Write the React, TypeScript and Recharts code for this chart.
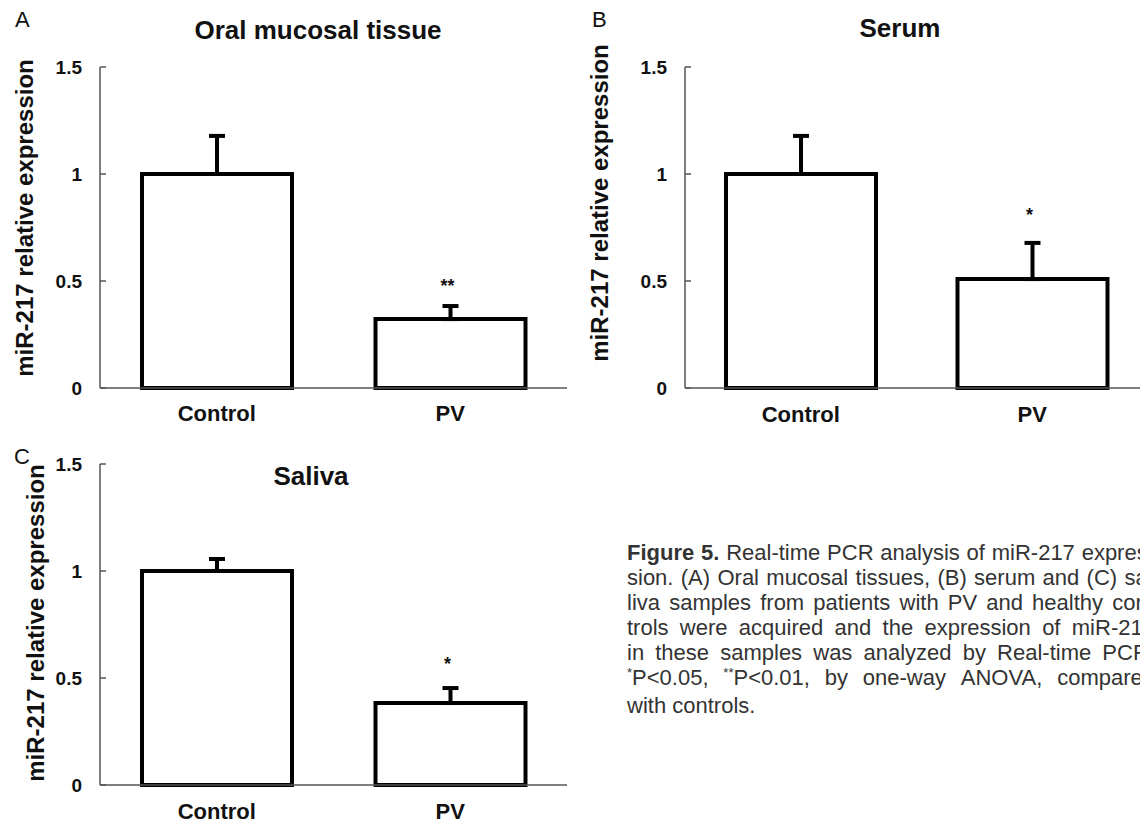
import React from "react";
import { BarChart, Bar, XAxis, YAxis, ErrorBar, LabelList } from "recharts";

const FONT = "'Liberation Sans', Arial, Helvetica, sans-serif";

const groups = ["Control", "PV"];
const yTicks = [0, 0.5, 1, 1.5];

const tissueValues = [1, 0.322];
const tissueErrors = [0.178, 0.061];
const tissueMarks = ["", "**"];

const serumValues = [1, 0.509];
const serumErrors = [0.178, 0.169];
const serumMarks = ["", "*"];

const salivaValues = [1, 0.383];
const salivaErrors = [0.056, 0.07];
const salivaMarks = ["", "*"];

const build = (values: number[], errors: number[], marks: string[]) =>
  groups.map((g, i) => ({ group: g, value: values[i], err: [0, errors[i]], sd: errors[i], mark: marks[i] }));

type PanelProps = {
  values: number[];
  errors: number[];
  marks: string[];
  left: number;
  top: number;
  width: number;
  height: number;
  yWidth: number;
  mTop: number;
  mRight: number;
  mBottom: number;
  xHeight: number;
  labelX: number;
  labelY: number;
  catGap: number;
  starGap: number;
};

const AXIS = "#555";

function Panel(p: PanelProps) {
  const data = build(p.values, p.errors, p.marks);

  const yTick = (props: any) => {
    const { x, y, payload } = props;
    const ax = x + 18;
    return (
      <g>
        <line x1={ax} x2={ax + 6} y1={y} y2={y} stroke={AXIS} strokeWidth={1.5} />
        <text x={x} y={y} dy="0.36em" textAnchor="end" fontFamily={FONT} fontWeight={700} fontSize={19} fill="#111">
          {payload.value}
        </text>
      </g>
    );
  };

  const yLabel = () => (
    <text
      x={p.labelX}
      y={p.labelY}
      transform={`rotate(-90, ${p.labelX}, ${p.labelY})`}
      textAnchor="middle"
      fontFamily={FONT}
      fontWeight={700}
      fontSize={24}
      fill="#111"
    >
      miR-217 relative expression
    </text>
  );

  const star = (props: any) => {
    const vb = props.viewBox ?? props;
    const i = props.index;
    if (!props.value) return null;
    const perUnit = vb.height / p.values[i];
    const errPx = p.errors[i] * perUnit;
    return (
      <text
        x={vb.x + vb.width / 2 - 3}
        y={vb.y - errPx - p.starGap}
        textAnchor="middle"
        fontFamily={FONT}
        fontWeight={700}
        fontSize={18}
        fill="#111"
      >
        {props.value}
      </text>
    );
  };

  return (
    <div style={{ position: "absolute", left: p.left, top: p.top }}>
      <BarChart
        width={p.width}
        height={p.height}
        data={data}
        margin={{ top: p.mTop, right: p.mRight, bottom: p.mBottom, left: 0 }}
        barSize={150}
      >
        <XAxis
          dataKey="group"
          interval={0}
          height={p.xHeight}
          axisLine={{ stroke: AXIS, strokeWidth: 1.5 }}
          tickLine={false}
          tickSize={0}
          tickMargin={p.catGap}
          tick={{ fill: "#111", fontSize: 22, fontWeight: 700, fontFamily: FONT }}
        />
        <YAxis
          domain={[0, 1.5]}
          ticks={yTicks}
          interval={0}
          width={p.yWidth}
          axisLine={{ stroke: AXIS, strokeWidth: 1.5 }}
          tickLine={false}
          tickSize={0}
          tickMargin={18}
          tick={yTick}
          label={{ content: yLabel }}
        />
        <Bar dataKey="value" fill="#fff" stroke="#000" strokeWidth={4} isAnimationActive={false}>
          <ErrorBar dataKey="err" direction="y" width={8} strokeWidth={4} stroke="#000" isAnimationActive={false} />
          <LabelList dataKey="mark" content={star} />
        </Bar>
      </BarChart>
    </div>
  );
}

const Sup = ({ s }: { s: string }) => (
  <span style={{ fontSize: 13, position: "relative", top: -8 }}>{s}</span>
);

const captionLines: React.ReactNode[][] = [
  [<b key="f">Figure</b>, <b key="5">5.</b>, "Real-time", "PCR", "analysis", "of", "miR-217", "expres-"],
  ["sion.", "(A)", "Oral", "mucosal", "tissues,", "(B)", "serum", "and", "(C)", "sa-"],
  ["liva", "samples", "from", "patients", "with", "PV", "and", "healthy", "con-"],
  ["trols", "were", "acquired", "and", "the", "expression", "of", "miR-217"],
  ["in", "these", "samples", "was", "analyzed", "by", "Real-time", "PCR."],
  [
    <span key="a"><Sup s="*" />P&lt;0.05,</span>,
    <span key="b"><Sup s="**" />P&lt;0.01,</span>,
    "by",
    "one-way",
    "ANOVA,",
    "compared",
  ],
];

export default function App() {
  return (
    <div
      style={{
        position: "absolute",
        left: 0,
        top: 0,
        width: 1140,
        height: 824,
        overflow: "hidden",
        background: "#fff",
        fontFamily: FONT,
      }}
    >
      <Panel
        values={tissueValues}
        errors={tissueErrors}
        marks={tissueMarks}
        left={0}
        top={0}
        width={570}
        height={430}
        yWidth={100}
        mTop={67}
        mRight={3}
        mBottom={2}
        xHeight={40}
        labelX={33}
        labelY={218}
        catGap={17}
        starGap={14}
      />
      <Panel
        values={serumValues}
        errors={serumErrors}
        marks={serumMarks}
        left={570}
        top={0}
        width={580}
        height={430}
        yWidth={115}
        mTop={67}
        mRight={2}
        mBottom={2}
        xHeight={40}
        labelX={38}
        labelY={203}
        catGap={18}
        starGap={22}
      />
      <Panel
        values={salivaValues}
        errors={salivaErrors}
        marks={salivaMarks}
        left={0}
        top={420}
        width={570}
        height={404}
        yWidth={100}
        mTop={44}
        mRight={3}
        mBottom={1}
        xHeight={38}
        labelX={44}
        labelY={203}
        catGap={18}
        starGap={18}
      />

      <svg width={1140} height={824} style={{ position: "absolute", left: 0, top: 0, pointerEvents: "none" }}>
        <g fontFamily={FONT} fill="#111">
          <text x={15} y={27} fontSize={22}>A</text>
          <text x={592} y={27} fontSize={22}>B</text>
          <text x={14} y={464} fontSize={22}>C</text>
          <text x={318} y={39} fontSize={26} fontWeight={700} textAnchor="middle">Oral mucosal tissue</text>
          <text x={900} y={37} fontSize={26} fontWeight={700} textAnchor="middle">Serum</text>
          <text x={311} y={485} fontSize={26} fontWeight={700} textAnchor="middle">Saliva</text>
        </g>
      </svg>

      <div
        style={{
          position: "absolute",
          left: 627,
          top: 540,
          width: 528,
          fontSize: 22,
          lineHeight: "25px",
          color: "#333",
        }}
      >
        {captionLines.map((words, i) => (
          <div key={i} style={{ display: "flex", justifyContent: "space-between", whiteSpace: "nowrap" }}>
            {words.map((w, j) => (
              <span key={j}>{w}</span>
            ))}
          </div>
        ))}
        <div style={{ whiteSpace: "nowrap" }}>with controls.</div>
      </div>
    </div>
  );
}
